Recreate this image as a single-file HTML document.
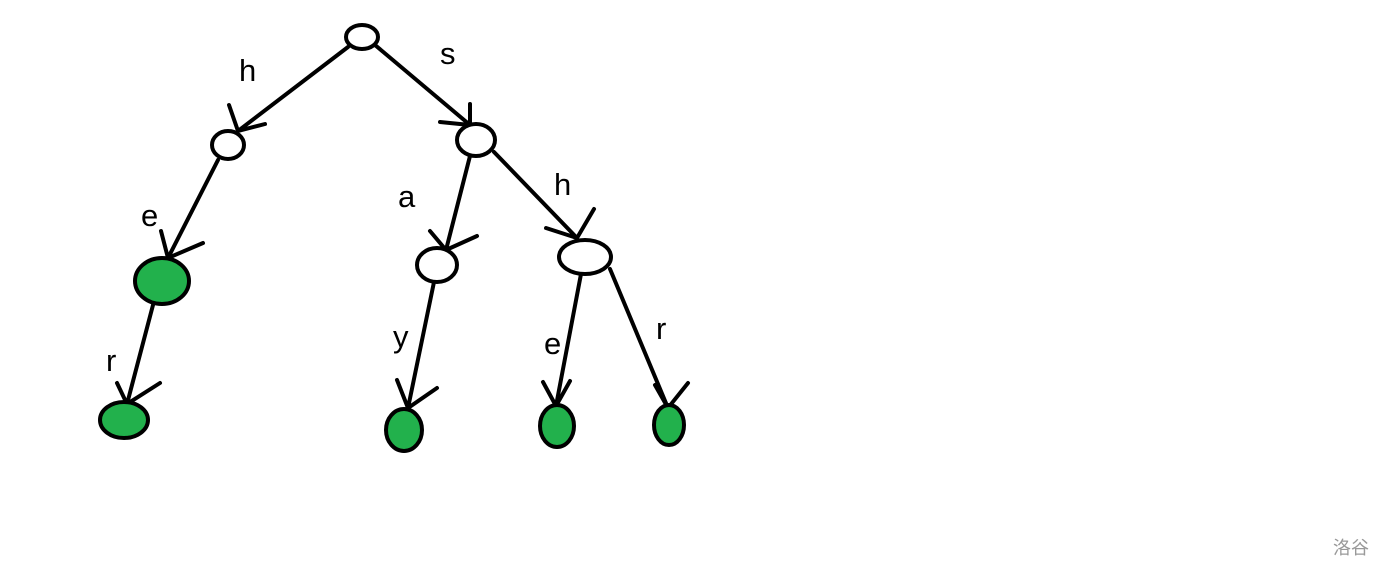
<!DOCTYPE html><html><head><style>body{margin:0;background:#fff}svg{display:block}
text{font-family:"Liberation Sans",sans-serif;font-size:31px;fill:#000}</style></head><body>
<svg width="1394" height="578" viewBox="0 0 1394 578">
<g stroke="#000" stroke-width="4" fill="none" stroke-linecap="round">
<path d="M348 47L238 131M229 105L238 131L265 124"/>
<path d="M375 45L470 125M470 104L470 125L440 122"/>
<path d="M218 160L168 258M161 231L168 258L203 243"/>
<path d="M470 156L446 250M430 231L446 250L477 236"/>
<path d="M494 152L577 238M594 209L577 238L546 228"/>
<path d="M153 305L127 404M117 383L127 404L160 383"/>
<path d="M434 282L408 408M397 380L408 408L437 388"/>
<path d="M581 274L556 406M543 382L556 406L570 381"/>
<path d="M610 269L668 408M655 385L668 408L688 383"/>
</g>
<g stroke="#000" stroke-width="4">
<ellipse cx="362" cy="37" rx="16" ry="12" fill="#fff"/>
<ellipse cx="228" cy="145" rx="16" ry="14" fill="#fff"/>
<ellipse cx="476" cy="140" rx="19" ry="16" fill="#fff"/>
<ellipse cx="162" cy="281" rx="27" ry="23" fill="#22b14c"/>
<ellipse cx="437" cy="265" rx="20" ry="17" fill="#fff"/>
<ellipse cx="585" cy="257" rx="26" ry="17" fill="#fff"/>
<ellipse cx="124" cy="420" rx="24" ry="18" fill="#22b14c"/>
<ellipse cx="404" cy="430" rx="18" ry="21" fill="#22b14c"/>
<ellipse cx="557" cy="426" rx="17" ry="21" fill="#22b14c"/>
<ellipse cx="669" cy="425" rx="15" ry="20" fill="#22b14c"/>
</g>
<text x="239" y="81">h</text><text x="440" y="64">s</text>
<text x="141" y="226">e</text><text x="398" y="207">a</text>
<text x="554" y="195">h</text><text x="106" y="371">r</text>
<text x="393" y="347">y</text><text x="544" y="354">e</text>
<text x="656" y="339">r</text>
<text x="1333" y="554" style="font-family:'Liberation Sans','Noto Sans CJK SC',sans-serif;font-size:18px;fill:#999">洛谷</text>
</svg></body></html>
